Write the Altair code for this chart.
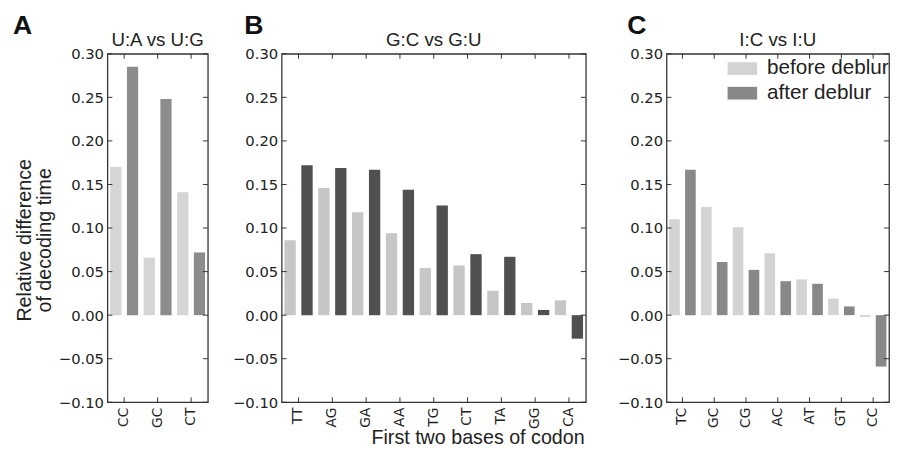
import altair as alt
import pandas as pd

SERIES = ["before deblur", "after deblur"]
Y_TICKS = [-0.10, -0.05, 0.00, 0.05, 0.10, 0.15, 0.20, 0.25, 0.30]

codons_a = ["CC", "GC", "CT"]
before_a = [0.170, 0.066, 0.141]
after_a = [0.285, 0.248, 0.072]

codons_b = ["TT", "AG", "GA", "AA", "TG", "CT", "TA", "GG", "CA"]
before_b = [0.086, 0.146, 0.118, 0.094, 0.054, 0.057, 0.028, 0.014, 0.017]
after_b = [0.172, 0.169, 0.167, 0.144, 0.126, 0.070, 0.067, 0.006, -0.027]

codons_c = ["TC", "GC", "CG", "AC", "AT", "GT", "CC"]
before_c = [0.110, 0.124, 0.101, 0.071, 0.041, 0.019, -0.002]
after_c = [0.167, 0.061, 0.052, 0.039, 0.036, 0.010, -0.059]

H = 354
INK = "#222222"
FRAME = "#333333"


def long_df(codons, before, after):
    rows = []
    for c, b, a in zip(codons, before, after):
        rows.append({"codon": c, "series": SERIES[0], "value": b})
        rows.append({"codon": c, "series": SERIES[1], "value": a})
    return pd.DataFrame(rows)


def panel(codons, before, after, title, letter, letter_dx, colors, width,
          show_ytitle, show_xtitle, show_legend):
    df = long_df(codons, before, after)
    xscale = alt.Scale(paddingInner=0, paddingOuter=0)
    yscale = alt.Scale(domain=[-0.1, 0.3], nice=False, zero=False)

    xaxis_kw = dict(labelAngle=270, labelFont="DejaVu Sans", labelFontSize=14,
                    labelColor=INK, ticks=False, domain=False, labelPadding=5,
                    grid=False)
    if show_xtitle:
        xaxis_kw.update(titleFont="Liberation Sans", titleFontSize=20,
                        titleFontWeight="normal", titleColor=INK,
                        titleBaseline="alphabetic", titleY=42, titleX=199)
    yaxis_kw = dict(values=Y_TICKS, format=".2f", labelFont="DejaVu Sans",
                    labelFontSize=15, labelColor=INK, ticks=False,
                    domain=False, grid=False, labelPadding=4)
    if show_ytitle:
        yaxis_kw.update(titleFont="Liberation Sans", titleFontSize=20,
                        titleFontWeight="normal", titleColor=INK,
                        titlePadding=4, titleY=189, titleLineHeight=20)

    xtitle = "First two bases of codon" if show_xtitle else None
    ytitle = ["Relative difference", "of decoding time"] if show_ytitle else None

    def xenc():
        return alt.X("codon:N", sort=codons, scale=xscale, title=xtitle,
                     axis=alt.Axis(**xaxis_kw))

    def yenc(field):
        return alt.Y(field, scale=yscale, title=ytitle, axis=alt.Axis(**yaxis_kw))

    if show_legend:
        legend = alt.Legend(title=None, orient="top-right", offset=0,
                            labelFont="Liberation Sans", labelFontSize=21,
                            labelColor=INK, symbolType="M-1,-0.43H1V0.43H-1Z",
                            symbolSize=900, symbolStrokeWidth=0,
                            symbolOpacity=1, rowPadding=-8, labelOffset=10,
                            padding=0)
    else:
        legend = None

    bars = alt.Chart(df).mark_bar().encode(
        x=xenc(),
        xOffset=alt.XOffset("series:N", sort=SERIES,
                            scale=alt.Scale(paddingInner=0.33, paddingOuter=0.165)),
        y=yenc("value:Q"),
        color=alt.Color("series:N", sort=SERIES,
                        scale=alt.Scale(domain=SERIES, range=colors),
                        legend=legend),
    )

    yt = pd.DataFrame({"value": Y_TICKS})
    left_ticks = alt.Chart(yt).mark_rule(color=FRAME, strokeWidth=1).encode(
        y=yenc("value:Q"), x=alt.value(0), x2=alt.value(5))
    right_ticks = alt.Chart(yt).mark_rule(color=FRAME, strokeWidth=1).encode(
        y=yenc("value:Q"), x=alt.value(width - 5), x2=alt.value(width))
    xt = pd.DataFrame({"codon": codons})
    bottom_ticks = alt.Chart(xt).mark_rule(color=FRAME, strokeWidth=1).encode(
        x=xenc(), y=alt.value(H - 5), y2=alt.value(H))
    top_ticks = alt.Chart(xt).mark_rule(color=FRAME, strokeWidth=1).encode(
        x=xenc(), y=alt.value(0), y2=alt.value(5))

    lab = alt.Chart(pd.DataFrame({"t": [letter]})).mark_text(
        font="Liberation Sans", fontSize=27, fontWeight="bold",
        align="left", baseline="top", color="#111111").encode(
        text="t:N", x=alt.value(letter_dx), y=alt.value(-41))

    ttl = alt.Chart(pd.DataFrame({"t": [title]})).mark_text(
        font="Liberation Sans", fontSize=19, align="center",
        baseline="alphabetic", color=INK).encode(
        text="t:N", x=alt.value(width / 2), y=alt.value(-8))

    return alt.layer(bars, left_ticks, right_ticks, bottom_ticks, top_ticks,
                     lab, ttl).properties(width=width, height=H)


pa = panel(codons_a, before_a, after_a, "U:A vs U:G", "A", -96,
           ["#d5d5d5", "#8c8c8c"], 102, True, False, False)
pb = panel(codons_b, before_b, after_b, "G:C vs G:U", "B", -38,
           ["#c6c6c6", "#505050"], 309, False, True, False)
pc = panel(codons_c, before_c, after_c, "I:C vs I:U", "C", -40,
           ["#d3d3d3", "#888888"], 226, False, False, True)

RES = dict(x="independent", y="independent", color="independent",
           xOffset="independent")

left_pair = alt.hconcat(pa, pb, spacing=22).resolve_scale(**RES)

chart = alt.hconcat(left_pair, pc, spacing=29).resolve_scale(**RES).properties(
    padding={"left": 4, "top": 0, "right": 0, "bottom": 0},
    background="white",
).configure_view(stroke=FRAME, strokeWidth=1.3)

chart.save("out.html", embed_options={"renderer": "svg", "actions": False})
